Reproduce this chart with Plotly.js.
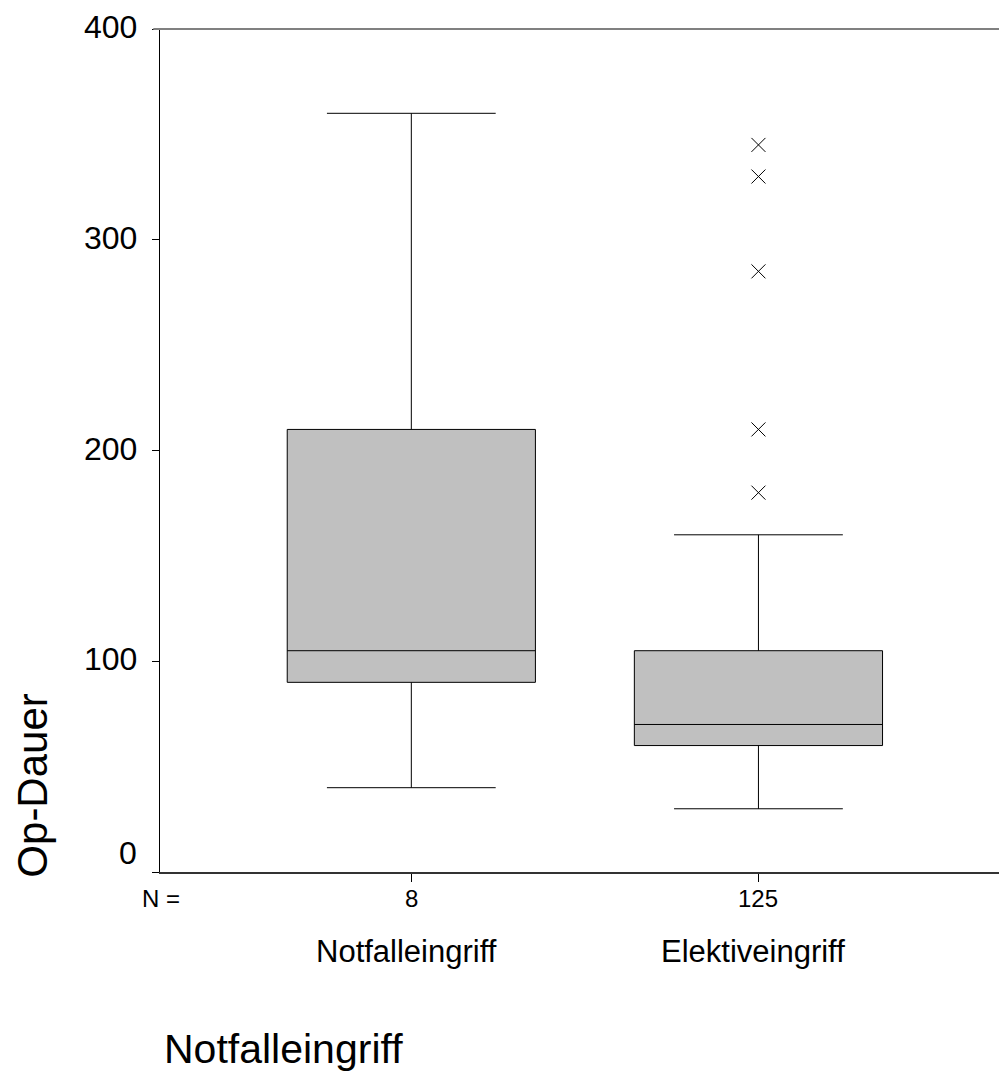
<!DOCTYPE html>
<html>
<head>
<meta charset="utf-8">
<script src="https://cdn.plot.ly/plotly-3.0.1.min.js"></script>
<style>
  html, body { margin: 0; padding: 0; background: #fff; }
  #chart { width: 999px; height: 1077px; }
</style>
</head>
<body>
<div id="chart"></div>
<script>
// Op-Dauer nach Eingriffsart (Boxplot mit Ausreißern)
const categories = ["Notfalleingriff", "Elektiveingriff"];
const nCounts = [8, 125];
const lowerWhisker = [40, 30];
const q1 = [90, 60];
const median = [105, 70];
const q3 = [210, 105];
const upperWhisker = [360, 160];

const outlierGroup = ["Elektiveingriff", "Elektiveingriff", "Elektiveingriff", "Elektiveingriff", "Elektiveingriff"];
const outlierValues = [345, 330, 285, 210, 180];

const yTicks = [0, 100, 200, 300, 400];

const FONT = "Liberation Sans, Arial, sans-serif";

const boxTrace = {
  type: "box",
  x: categories,
  q1: q1,
  median: median,
  q3: q3,
  lowerfence: lowerWhisker,
  upperfence: upperWhisker,
  width: 0.715,
  whiskerwidth: 0.68,
  fillcolor: "#c0c0c0",
  line: { color: "#000000", width: 1 },
  boxpoints: false,
  hoverinfo: "skip",
  showlegend: false
};

const outlierTrace = {
  type: "scatter",
  mode: "markers",
  x: outlierGroup,
  y: outlierValues,
  marker: {
    symbol: "x-thin-open",
    size: 14,
    color: "#000000",
    line: { color: "#000000", width: 1 }
  },
  hoverinfo: "skip",
  showlegend: false
};

const annotations = [];

// y tick labels (the 0 label sits a little above its tick)
yTicks.forEach(v => {
  annotations.push({
    xref: "paper", yref: "y",
    x: -0.025, y: v,
    xanchor: "right", yanchor: "middle",
    yshift: v === 0 ? 19 : 2,
    text: String(v),
    showarrow: false,
    font: { family: FONT, size: 32, color: "#000" }
  });
});

// sample sizes row
annotations.push({
  xref: "paper", yref: "paper",
  x: -0.024, y: -0.032,
  xanchor: "left", yanchor: "middle",
  text: "N =",
  showarrow: false,
  font: { family: FONT, size: 24, color: "#000" }
});
categories.forEach((c, i) => {
  annotations.push({
    xref: "x", yref: "paper",
    x: c, y: -0.032,
    xanchor: "center", yanchor: "middle",
    text: String(nCounts[i]),
    showarrow: false,
    font: { family: FONT, size: 24, color: "#000" }
  });
  annotations.push({
    xref: "x", yref: "paper",
    x: c, y: -0.094,
    xanchor: "center", yanchor: "middle",
    xshift: -5,
    text: c,
    showarrow: false,
    font: { family: FONT, size: 31, color: "#000" }
  });
});

// y axis title
annotations.push({
  xref: "paper", yref: "paper",
  x: -0.152, y: 0.103,
  xanchor: "center", yanchor: "middle",
  textangle: -90,
  text: "Op-Dauer",
  showarrow: false,
  font: { family: FONT, size: 42, color: "#000" }
});

// x axis title
annotations.push({
  xref: "paper", yref: "paper",
  x: 0.002, y: -0.21,
  xanchor: "left", yanchor: "middle",
  text: "Notfalleingriff",
  showarrow: false,
  font: { family: FONT, size: 41, color: "#000" }
});

const layout = {
  width: 999,
  height: 1077,
  margin: { l: 160, r: 0, t: 29, b: 205 },
  paper_bgcolor: "#ffffff",
  plot_bgcolor: "#ffffff",
  showlegend: false,
  xaxis: {
    type: "category",
    range: [-0.724, 1.693],
    showgrid: false,
    zeroline: false,
    showline: true,
    linecolor: "#333333",
    linewidth: 2,
    ticks: "outside",
    ticklen: 8,
    tickcolor: "#000000",
    tickwidth: 1,
    showticklabels: false,
    fixedrange: true
  },
  yaxis: {
    range: [0, 400],
    tickvals: yTicks,
    showgrid: false,
    zeroline: false,
    showline: true,
    linecolor: "#000000",
    linewidth: 1,
    ticks: "outside",
    ticklen: 7,
    tickcolor: "#000000",
    tickwidth: 1,
    showticklabels: false,
    fixedrange: true
  },
  shapes: [
    {
      type: "line", xref: "paper", yref: "paper",
      x0: -0.008, x1: 1, y0: 1, y1: 1,
      line: { color: "#808080", width: 2 }
    }
  ],
  annotations: annotations
};

Plotly.newPlot("chart", [boxTrace, outlierTrace], layout, { staticPlot: true, displayModeBar: false });
</script>
</body>
</html>
